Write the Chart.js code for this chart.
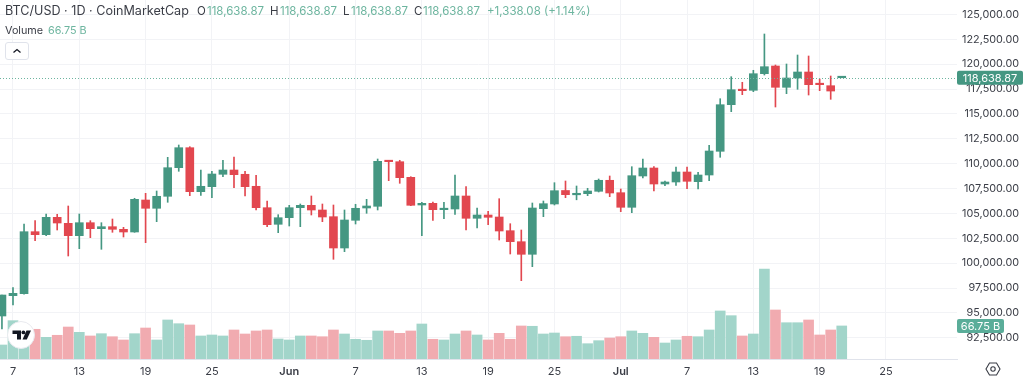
<!DOCTYPE html>
<html lang="en">
<head>
  <meta charset="UTF-8" />
  <title>BTC/USD 1D</title>
  <script src="https://cdn.jsdelivr.net/npm/chart.js"></script>
  <style>
    html, body { margin: 0; padding: 0; background: #fff; }
    body { width: 1024px; height: 381px; position: relative; overflow: hidden; font-family: Inter, sans-serif; color: #3a3d46; }
    canvas { position: absolute; left: 0; top: 0; }
    .t { position: absolute; white-space: nowrap; line-height: 16px; }
    .up { color: #6db59f; }
    .btn { position: absolute; left: 5px; top: 42px; width: 22px; height: 16px; border: 1px solid #e0e3eb; border-radius: 3px; background: #fff; }
    .logo { position: absolute; left: 7px; top: 321px; width: 28px; height: 28px; }
    .gear { position: absolute; left: 985px; top: 361px; width: 16px; height: 16px; }
  </style>
</head>
<body>
  <canvas id="chart" width="1024" height="381"></canvas>

  <!-- Header -->
  <div class="t" style="left:5px;top:3px;font-size:12.6px">BTC/USD · 1D · CoinMarketCap</div>
  <div class="t" style="left:197px;top:3px;font-size:11.5px">O</div>
  <div class="t up" style="left:207px;top:3px;font-size:11.5px">118,638.87</div>
  <div class="t" style="left:270px;top:3px;font-size:11.5px">H</div>
  <div class="t up" style="left:280px;top:3px;font-size:11.5px">118,638.87</div>
  <div class="t" style="left:343px;top:3px;font-size:11.5px">L</div>
  <div class="t up" style="left:351px;top:3px;font-size:11.5px">118,638.87</div>
  <div class="t" style="left:414px;top:3px;font-size:11.5px">C</div>
  <div class="t up" style="left:423px;top:3px;font-size:11.5px">118,638.87</div>
  <div class="t up" style="left:487px;top:3px;font-size:11.5px">+1,338.08 (+1.14%)</div>
  <div class="t" style="left:5px;top:23px;font-size:10.8px">Volume</div>
  <div class="t up" style="left:48px;top:23px;font-size:10.8px">66.75 B</div>
  <div class="btn">
    <svg width="22" height="16" viewBox="0 0 22 16"><path d="M7.5 9.5 L11 6.5 L14.5 9.5" fill="none" stroke="#131722" stroke-width="1.3"/></svg>
  </div>

  <!-- Logo and settings icon -->
  <svg class="logo" viewBox="0 0 28 28">
    <circle cx="14" cy="14" r="13.5" fill="#fff" stroke="#e8e9ee"/>
    <path d="M5.5 9.5 H14 V18.5 H10 V13 H5.5 Z" fill="#131722"/>
    <circle cx="16.4" cy="11.4" r="1.9" fill="#131722"/>
    <path d="M19.5 9.5 H24 L19.8 18.5 H15.5 Z" fill="#131722"/>
  </svg>
  <svg class="gear" viewBox="0 0 16 16">
    <path d="M4.5 2 H11.5 L15 8 L11.5 14 H4.5 L1 8 Z" fill="none" stroke="#3a3d46" stroke-width="1.1"/>
    <circle cx="8" cy="8" r="2.2" fill="none" stroke="#3a3d46" stroke-width="1.1"/>
  </svg>

  <script>
    const dates = [
      'May 6','May 7','May 8','May 9','May 10','May 11','May 12','May 13','May 14','May 15','May 16','May 17','May 18',
      'May 19','May 20','May 21','May 22','May 23','May 24','May 25','May 26','May 27','May 28','May 29','May 30','May 31',
      'Jun 1','Jun 2','Jun 3','Jun 4','Jun 5','Jun 6','Jun 7','Jun 8','Jun 9','Jun 10','Jun 11','Jun 12','Jun 13','Jun 14','Jun 15',
      'Jun 16','Jun 17','Jun 18','Jun 19','Jun 20','Jun 21','Jun 22','Jun 23','Jun 24','Jun 25','Jun 26','Jun 27','Jun 28','Jun 29','Jun 30',
      'Jul 1','Jul 2','Jul 3','Jul 4','Jul 5','Jul 6','Jul 7','Jul 8','Jul 9','Jul 10','Jul 11','Jul 12','Jul 13','Jul 14','Jul 15',
      'Jul 16','Jul 17','Jul 18','Jul 19','Jul 20','Jul 21'
    ];
    const opens = [
      94692,96732,96933,103164,102863,104611,104008,102762,104069,103466,103667,103405,103134,
      106350,105516,106722,109596,111606,107184,107687,108933,109365,108933,107727,105576,103908,
      104571,105576,105817,105345,104672,101526,104310,105546,105717,110269,110199,108631,105847,106018,105375,
      105445,106752,104511,104842,104641,103265,102159,100893,105476,105948,107305,106873,106983,107224,108330,
      107084,105616,108762,109566,107958,108159,109164,108189,108862,111244,115928,117475,117375,119043,119817,
      117676,118611,119214,118008,117837,118638.87
    ];
    const highs = [
      96802,97556,103938,104270,104943,104913,105747,104943,104270,104069,104440,103606,106521,
      107023,107254,110641,111877,111707,109365,109234,110340,110671,109234,108832,106249,104873,
      105817,105948,106752,105948,105847,105345,105918,106420,110470,110269,110340,108692,106119,106149,106119,
      108862,107687,105546,105214,106481,103968,103335,106048,106249,108089,108259,107757,107526,108460,108762,
      107455,109697,110470,109697,108259,109666,109666,109134,111847,116531,118742,118179,119385,123033,119917,
      120018,120922,120822,118510,118812,118638.87
    ];
    const lows = [
      93385,95797,96873,102260,102762,103335,100722,101456,102561,101395,103104,102631,103104,
      102059,104169,106119,109234,106782,106822,106581,108692,107586,106752,105345,103667,103064,
      103737,103667,104842,104169,100390,101154,103938,105013,105345,108290,108028,105777,102762,104310,104471,
      104913,103335,103536,103868,102330,100923,98240,99647,104672,105847,106581,106370,106782,107154,106682,
      105174,105074,108561,107254,107787,107827,107486,107455,108290,110641,115224,116933,117234,118912,115696,
      117033,117475,116902,117335,116470,118638.87
    ];
    const closes = [
      96802,96973,103164,102863,104611,104038,102762,104069,103466,103667,103405,103134,106420,
      105516,106722,109596,111606,107184,107727,108963,109365,108893,107687,105576,103868,104571,
      105576,105817,105345,104641,101526,104340,105516,105747,110239,110199,108591,105817,106018,105375,105476,
      106752,104511,104842,104611,103234,102159,100893,105546,105978,107285,106883,107023,107254,108330,107053,
      105616,108792,109566,107958,108159,109164,108229,108862,111274,115928,117435,117335,119043,119747,117676,
      118611,119214,117938,117938,117301,118638.87
    ];
    // volume in billions
    const volumes = [
      28.3,77.4,48,60,43.8,47.9,64.6,53.9,46.5,51.1,45,38.4,51.1,
      62.6,38.4,78.8,71.3,68.7,46.5,48.5,46.5,58.6,50.5,56.6,58.6,40.4,
      38.4,46.5,46.5,45,58.6,50.5,39.8,37.8,56.6,56.6,51.9,56.6,70.7,39.8,38.4,
      50.5,56.6,48.5,38.4,51.9,39.8,66.7,66.1,50.5,52.5,45,45.9,30.9,37,42.4,
      45,56.6,51.9,43.8,32.3,38.4,45.9,45,58.6,97,87.5,46.5,50.5,181.8,99,
      73.3,73.3,78.8,48.5,58.6,66.75
    ];
    const tickDates = ['May 7','May 13','May 19','May 25','Jun 1','Jun 7','Jun 13','Jun 19','Jun 25','Jul 1','Jul 7','Jul 13','Jul 19','Jul 25'];
    const tickLabels = ['7','13','19','25','Jun','7','13','19','25','Jul','7','13','19','25'];
    const priceTicks = [125000,122500,120000,117500,115000,112500,110000,107500,105000,102500,100000,97500,95000,92500];
    const lastPrice = 118638.87;
    const lastVolume = 66.75;

    const GREEN = '#459782', RED = '#e2474f';
    const VOL_GREEN = '#a2d5ca', VOL_RED = '#f1abb0';
    const GRID = '#f2f3f6';

    // Jul 25 is past the end of the data, so the tick index is counted on from Jul 21
    const tickIndex = tickDates.map(d => dates.includes(d) ? dates.indexOf(d) : dates.length - 1 + (parseInt(d.split(' ')[1]) - 21));
    const isUp = i => closes[i] >= opens[i];

    const lastValuePlugin = {
      id: 'lastValue',
      afterDatasetsDraw(chart) {
        const { ctx, chartArea, scales } = chart;
        const y = Math.round(scales.y.getPixelForValue(lastPrice)) + 0.5;
        ctx.save();
        ctx.strokeStyle = '#6db59f';
        ctx.lineWidth = 1;
        ctx.setLineDash([1, 2]);
        ctx.beginPath();
        ctx.moveTo(chartArea.left, y);
        ctx.lineTo(chartArea.right, y);
        ctx.stroke();
        ctx.restore();
      },
      afterDraw(chart) {
        const { ctx, chartArea, scales } = chart;
        const box = (label, cy, w, color) => {
          ctx.save();
          ctx.fillStyle = color;
          ctx.beginPath();
          ctx.roundRect(chartArea.right, cy - 7, w, 14, 2);
          ctx.fill();
          ctx.fillStyle = '#fff';
          ctx.font = '11px Inter, sans-serif';
          ctx.textAlign = 'center';
          ctx.textBaseline = 'middle';
          ctx.fillText(label, chartArea.right + w / 2, cy + 0.5);
          ctx.restore();
        };
        box(lastPrice.toLocaleString('en-US'), scales.y.getPixelForValue(lastPrice), 66, GREEN);
        box(lastVolume + ' B', scales.vol.getPixelForValue(lastVolume), 47, '#5aad99');
      }
    };

    new Chart(document.getElementById('chart'), {
      type: 'bar',
      data: {
        datasets: [
          {
            label: 'Body',
            data: dates.map((d, i) => ({ x: i, y: [opens[i], closes[i]] })),
            backgroundColor: dates.map((d, i) => isUp(i) ? GREEN : RED),
            barThickness: 8,
            minBarLength: 1.5,
            grouped: false,
            order: 1
          },
          {
            label: 'Wick',
            data: dates.map((d, i) => ({ x: i, y: [lows[i], highs[i]] })),
            backgroundColor: dates.map((d, i) => isUp(i) ? GREEN : RED),
            barThickness: 1,
            grouped: false,
            order: 2
          },
          {
            label: 'Volume',
            yAxisID: 'vol',
            data: dates.map((d, i) => ({ x: i, y: volumes[i] })),
            backgroundColor: dates.map((d, i) => isUp(i) ? VOL_GREEN : VOL_RED),
            barThickness: 10,
            grouped: false,
            order: 3
          }
        ]
      },
      options: {
        responsive: false,
        animation: false,
        layout: { padding: { right: 5 } },
        plugins: { legend: { display: false }, tooltip: { enabled: false } },
        scales: {
          x: {
            type: 'linear',
            offset: false,
            min: -0.176,
            max: 86.43,
            afterBuildTicks(scale) { scale.ticks = tickIndex.map(value => ({ value })); },
            afterFit(scale) { scale.height = 22; scale.paddingLeft = 0; scale.paddingRight = 0; },
            grid: { color: GRID, drawTicks: false, offset: false },
            border: { color: '#e0e3eb' },
            ticks: {
              autoSkip: false,
              maxRotation: 0,
              padding: 6,
              color: '#3a3d46',
              font: ctx => ({
                family: 'Inter, sans-serif',
                size: 11,
                weight: ctx.tick && isNaN(tickLabels[tickIndex.indexOf(ctx.tick.value)]) ? '600' : '400'
              }),
              callback: value => tickLabels[tickIndex.indexOf(value)]
            }
          },
          y: {
            position: 'right',
            min: 90370,
            max: 126450,
            afterBuildTicks(scale) { scale.ticks = priceTicks.map(value => ({ value })); },
            afterFit(scale) { scale.width = 62; scale.paddingTop = 0; scale.paddingBottom = 0; },
            grid: { color: GRID, drawTicks: false },
            border: { display: false },
            ticks: {
              autoSkip: false,
              crossAlign: 'far',
              color: '#3a3d46',
              font: { family: 'Inter, sans-serif', size: 10.8 },
              callback: v => v.toLocaleString('en-US', { minimumFractionDigits: 2 })
            }
          },
          vol: { display: false, min: 0, max: 725 }
        }
      },
      plugins: [lastValuePlugin]
    });
  </script>
</body>
</html>
